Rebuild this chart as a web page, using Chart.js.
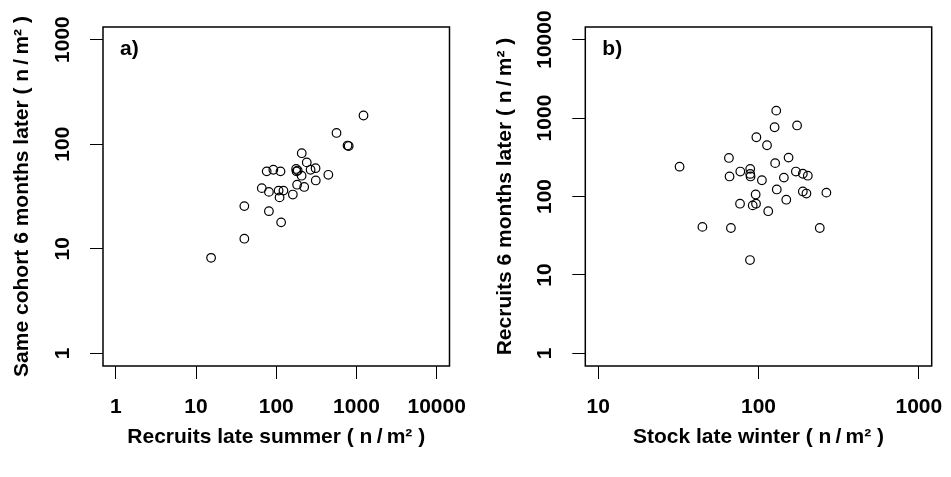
<!DOCTYPE html>
<html>
<head>
<meta charset="utf-8">
<script src="https://cdn.jsdelivr.net/npm/chart.js@4.4.1/dist/chart.umd.min.js"></script>
<style>
  html, body { margin: 0; padding: 0; background: #fff; }
  .panel { position: absolute; top: 0; height: 477px; }
  #panelA { left: 0; width: 475px; }
  #panelB { left: 475px; width: 476px; }
</style>
</head>
<body>
<div class="panel" id="panelA"><canvas id="chartA"></canvas></div>
<div class="panel" id="panelB"><canvas id="chartB"></canvas></div>
<script>
// Panel a : recrues fin d'été vs même cohorte 6 mois plus tard
const recruitsSummer = [1224, 564, 774, 800, 208, 240, 309, 268, 177, 185, 179, 207, 446, 311, 76, 92, 113, 66, 81, 107, 123, 110, 161, 182, 223, 40, 81, 115, 40, 15.4];
const sameCohort     = [188, 128, 97, 96, 82, 67, 59, 57, 58, 56, 55, 50, 51, 45, 55, 57, 55, 38, 35, 36, 36, 31, 33, 41, 39, 25.6, 22.9, 17.9, 12.5, 8.2];

// Panel b : stock fin d'hiver vs recrues 6 mois plus tard
const stockWinter    = [129, 126, 174, 97, 113, 65.4, 154, 127, 32.2, 66, 77, 88.8, 88.8, 89.2, 105, 171, 189, 203, 144, 130, 189, 199, 265, 96, 149, 76.7, 92, 96.5, 115, 44.7, 67.3, 241, 88.5];
const recruitsLater  = [1242, 763, 804, 569, 450, 310, 313, 266, 240, 180, 208, 225, 194, 180, 161, 208, 195, 184, 174, 123, 116, 109, 112, 106, 91, 81, 77, 81, 65, 41, 39.7, 39.7, 15.5];

// Graduations
const ticksAx = [1, 10, 100, 1000, 10000];
const ticksAy = [1, 10, 100, 1000];
const ticksBx = [10, 100, 1000];
const ticksBy = [1, 10, 100, 1000, 10000];

const FONT = "'Liberation Sans', Arial, sans-serif";

// Cadre noir autour de la zone de tracé + étiquette du panneau
const boxPlugin = {
    id: 'boxPlugin',
    afterDraw(chart, args, opts) {
        const { ctx, chartArea } = chart;
        ctx.save();
        ctx.strokeStyle = '#000';
        ctx.lineWidth = 1.5;
        ctx.strokeRect(chartArea.left, chartArea.top, chartArea.right - chartArea.left, chartArea.bottom - chartArea.top);
        ctx.fillStyle = '#000';
        ctx.font = 'bold 21px ' + FONT;
        ctx.textBaseline = 'alphabetic';
        ctx.fillText(opts.text, chartArea.left + 17, chartArea.top + 28);
        ctx.restore();
    }
};

function createPanel(canvasId, cfg) {
    const ctx = document.getElementById(canvasId);
    const points = cfg.xs.map((x, i) => ({ x: x, y: cfg.ys[i] }));

    return new Chart(ctx, {
        type: 'scatter',
        data: {
            datasets: [{
                data: points,
                pointStyle: 'circle',
                pointRadius: 4.3,
                pointHoverRadius: 4.3,
                borderColor: '#000',
                backgroundColor: 'rgba(0,0,0,0)',
                borderWidth: 1.2
            }]
        },
        options: {
            responsive: true,
            maintainAspectRatio: false,
            animation: false,
            layout: { padding: { top: 27, right: cfg.rightPad, left: 0, bottom: 0 } },
            plugins: {
                legend: { display: false },
                tooltip: { enabled: false },
                boxPlugin: { text: cfg.label }
            },
            scales: {
                x: {
                    type: 'logarithmic',
                    min: cfg.xMin,
                    max: cfg.xMax,
                    afterBuildTicks: s => { s.ticks = cfg.xTicks.map(v => ({ value: v })); },
                    afterFit: s => {
                        s.height = 111;
                        s.paddingLeft = 0;
                        s.paddingRight = 0;
                    },
                    grid: { display: true, drawOnChartArea: false, drawTicks: true, tickLength: 13, color: '#000', lineWidth: 1 },
                    border: { display: false },
                    ticks: {
                        autoSkip: false,
                        maxRotation: 0,
                        padding: 16,
                        color: '#000',
                        font: { family: FONT, size: 21, weight: 'bold' },
                        callback: v => String(v)
                    },
                    title: {
                        display: true,
                        text: cfg.xTitle,
                        color: '#000',
                        font: { family: FONT, size: 21, weight: 'bold' },
                        padding: { top: 0, bottom: 27 }
                    }
                },
                y: {
                    type: 'logarithmic',
                    min: cfg.yMin,
                    max: cfg.yMax,
                    afterBuildTicks: s => { s.ticks = cfg.yTicks.map(v => ({ value: v })); },
                    afterFit: s => {
                        s.width = cfg.yWidth;
                        s.paddingTop = 0;
                        s.paddingBottom = 0;
                    },
                    grid: { display: true, drawOnChartArea: false, drawTicks: true, tickLength: 13, color: '#000', lineWidth: 1 },
                    border: { display: false },
                    ticks: {
                        autoSkip: false,
                        minRotation: 90,
                        maxRotation: 90,
                        crossAlign: 'center',
                        padding: cfg.yTickPad,
                        color: '#000',
                        font: { family: FONT, size: 21, weight: 'bold' },
                        callback: v => String(v)
                    },
                    title: {
                        display: true,
                        text: cfg.yTitle,
                        color: '#000',
                        font: { family: FONT, size: 21, weight: 'bold' },
                        padding: { top: cfg.yTitlePad, bottom: 0 }
                    }
                }
            }
        },
        plugins: [boxPlugin]
    });
}

document.addEventListener('DOMContentLoaded', function() {
    createPanel('chartA', {
        xs: recruitsSummer, ys: sameCohort,
        xTicks: ticksAx, yTicks: ticksAy,
        xMin: Math.pow(10, -0.16), xMax: Math.pow(10, 4.16),
        yMin: Math.pow(10, -0.12), yMax: Math.pow(10, 3.12),
        yWidth: 103, rightPad: 25.5, yTickPad: 3, yTitlePad: 10,
        label: 'a)',
        xTitle: 'Recruits late summer ( n\u2009/\u2009m² )',
        yTitle: 'Same cohort 6 months later ( n\u2009/\u2009m² )'
    });
    createPanel('chartB', {
        xs: stockWinter, ys: recruitsLater,
        xTicks: ticksBx, yTicks: ticksBy,
        xMin: Math.pow(10, 0.92), xMax: Math.pow(10, 3.08),
        yMin: Math.pow(10, -0.16), yMax: Math.pow(10, 4.16),
        yWidth: 110.3, rightPad: 19.3, yTickPad: -2, yTitlePad: 18,
        label: 'b)',
        xTitle: 'Stock late winter ( n\u2009/\u2009m² )',
        yTitle: 'Recruits 6 months later ( n\u2009/\u2009m² )'
    });
});
</script>
</body>
</html>
